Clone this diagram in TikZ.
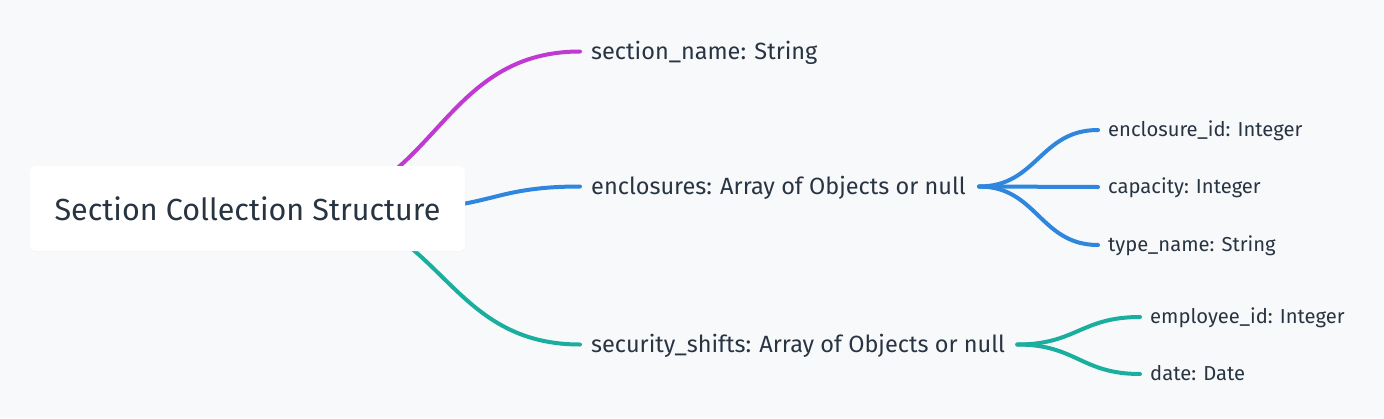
\documentclass[tikz,border=0pt]{standalone}
\usepackage{fontspec}
\setmainfont{Fira Sans}
\usetikzlibrary{backgrounds,shadows}

\definecolor{bgcol}{RGB}{248,249,251}
\definecolor{textcol}{RGB}{40,52,66}
\definecolor{magentaline}{RGB}{192,58,210}
\definecolor{blueline}{RGB}{46,134,222}
\definecolor{tealline}{RGB}{26,174,159}

\begin{document}
\begin{tikzpicture}[x=1pt,y=-1pt]
		\tikzstyle{RootStyle} = [rectangle, rounded corners=6pt, fill=white, minimum width=435pt, minimum height=85pt,
			inner sep=0pt, text=textcol, font=\fontsize{30.5}{34}\selectfont,
			drop shadow={opacity=0.04, shadow xshift=0pt, shadow yshift=-1pt}]
		\tikzstyle{FieldStyle} = [anchor=west, inner xsep=11pt, inner ysep=0pt, text height=20pt, text depth=4.8pt,
			text=textcol, font=\fontsize{23.5}{27}\selectfont]
		\tikzstyle{SubStyle}   = [FieldStyle, inner xsep=10pt, text height=17pt, text depth=4.4pt, font=\fontsize{20.2}{24}\selectfont]
		\tikzstyle{LinkStyle}  = [line width=4pt, line cap=round]

		\useasboundingbox (0,0) rectangle (1384,418);

		\node[RootStyle] (Root) at (247.5,208.5) {Section Collection Structure};

		\node[FieldStyle] (SectionName)    at (580,51.5)  {section\_name: String};
		\node[FieldStyle] (Enclosures)     at (580,186.5) {enclosures: Array of Objects or null};
		\node[FieldStyle] (SecurityShifts) at (580,344.5) {security\_shifts: Array of Objects or null};

		\node[SubStyle] (EnclosureId) at (1098,130) {enclosure\_id: Integer};
		\node[SubStyle] (Capacity)    at (1098,187) {capacity: Integer};
		\node[SubStyle] (TypeName)    at (1098,245) {type\_name: String};
		\node[SubStyle] (EmployeeId)  at (1140,317) {employee\_id: Integer};
		\node[SubStyle] (Date)        at (1140,374) {date: Date};

		\begin{scope}[on background layer]
			\fill[bgcol] (0,0) rectangle (1384,418);
			\draw[LinkStyle, magentaline] ([xshift=43pt]Root.center) .. controls +(145,0) and +(-145,0) .. (SectionName.west);
			\draw[LinkStyle, blueline] ([xshift=156pt]Root.center) .. controls +(88,0) and +(-88,0) .. (Enclosures.west);
			\draw[LinkStyle, tealline] ([xshift=56pt]Root.center) .. controls +(138,0) and +(-138,0) .. (SecurityShifts.west);
		\end{scope}

		\coordinate (EnclosuresEnd) at ([xshift=2pt]Enclosures.east);
		\draw[LinkStyle, blueline] (EnclosuresEnd) .. controls +(58,0) and +(-58,0) .. (EnclosureId.west);
		\draw[LinkStyle, blueline] (EnclosuresEnd) -- (Capacity.west);
		\draw[LinkStyle, blueline] (EnclosuresEnd) .. controls +(58,0) and +(-58,0) .. (TypeName.west);

		\coordinate (ShiftsEnd) at ([xshift=1pt]SecurityShifts.east);
		\draw[LinkStyle, tealline] (ShiftsEnd) .. controls +(59,0) and +(-59,0) .. (EmployeeId.west);
		\draw[LinkStyle, tealline] (ShiftsEnd) .. controls +(59,0) and +(-59,0) .. (Date.west);
	\end{tikzpicture}
\end{document}
